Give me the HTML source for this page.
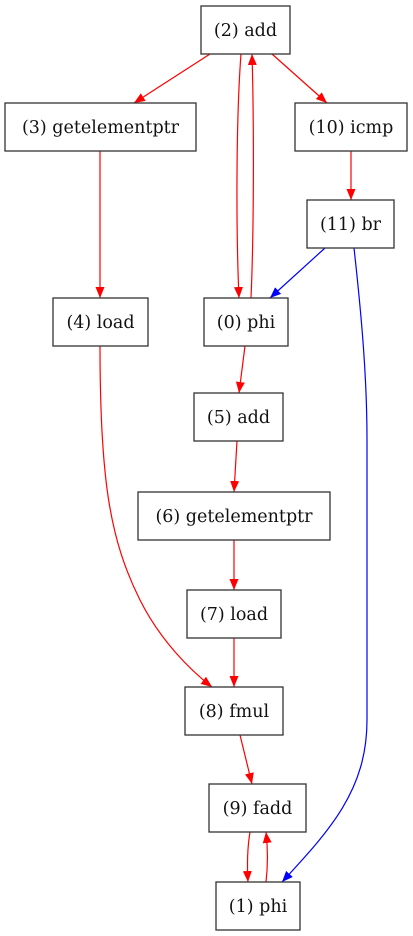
<!DOCTYPE html>
<html><head><meta charset="utf-8"><style>
html,body{margin:0;padding:0;background:#fff}
svg{display:block}
text{font-family:"DejaVu Serif","Liberation Serif",serif;font-size:17.5px;fill:#111}
</style></head><body>
<svg width="413" height="936" viewBox="0 0 413 936" xmlns="http://www.w3.org/2000/svg">
<defs>
<marker id="r" markerUnits="userSpaceOnUse" markerWidth="12" markerHeight="10" refX="11" refY="5" orient="auto"><path d="M0,0.5 L11,5 L0,9.5 Z" fill="#f00"/></marker>
<marker id="b" markerUnits="userSpaceOnUse" markerWidth="12" markerHeight="10" refX="11" refY="5" orient="auto"><path d="M0,0.5 L11,5 L0,9.5 Z" fill="#00f"/></marker>
</defs>
<g fill="none" stroke="#f00" stroke-width="1.2" marker-end="url(#r)">
<path d="M210,54 L134,103"/>
<path d="M272,54 L327,103"/>
<path d="M241,54 C236,120 236,230 239,298"/>
<path d="M251,298 C254,230 254,120 252,54"/>
<path d="M351,151 L351,200"/>
<path d="M100,151 L100,298"/>
<path d="M100,346 C100,480 110,540 140,600 C160,640 190,670 212,687"/>
<path d="M245,346 L239,393"/>
<path d="M237,441 L234,492"/>
<path d="M234,540 L234,590"/>
<path d="M234,638 L234,687"/>
<path d="M240,735 L252,784"/>
<path d="M250,832 C247,850 247,865 248,882"/>
<path d="M266,882 C268,865 268,850 266,832"/>
</g>
<g fill="none" stroke="#00f" stroke-width="1.2" marker-end="url(#b)">
<path d="M325,248 L270,298"/>
<path d="M354,248 C362,320 367,380 367,440 L367,720 C367,790 330,830 282,882"/>
</g>
<g fill="#fff" stroke="#333" stroke-width="1.3">
<rect x="201" y="6" width="89" height="48"/>
<rect x="5" y="103" width="191" height="48"/>
<rect x="295" y="103" width="112" height="48"/>
<rect x="307" y="200" width="87" height="48"/>
<rect x="53" y="298" width="95" height="48"/>
<rect x="204" y="298" width="84" height="48"/>
<rect x="194" y="393" width="89" height="48"/>
<rect x="138" y="492" width="192" height="48"/>
<rect x="187" y="590" width="94" height="48"/>
<rect x="185" y="687" width="98" height="48"/>
<rect x="209" y="784" width="97" height="48"/>
<rect x="216" y="882" width="84" height="48"/>
</g>
<g text-anchor="middle">
<text x="245.5" y="36">(2) add</text>
<text x="100.5" y="133">(3) getelementptr</text>
<text x="351" y="133">(10) icmp</text>
<text x="350.5" y="230">(11) br</text>
<text x="100.5" y="328">(4) load</text>
<text x="246" y="328">(0) phi</text>
<text x="238.5" y="423">(5) add</text>
<text x="234" y="522">(6) getelementptr</text>
<text x="234" y="620">(7) load</text>
<text x="234" y="717">(8) fmul</text>
<text x="257.5" y="814">(9) fadd</text>
<text x="258" y="912">(1) phi</text>
</g>
</svg>
</body></html>
